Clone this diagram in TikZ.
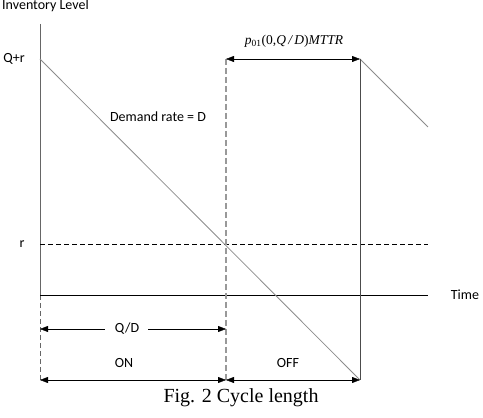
\documentclass[tikz,border=0pt]{standalone}
\usepackage{fontspec}
\setmainfont{Carlito}
\newfontfamily\timesfont{Liberation Serif}
\usetikzlibrary{arrows.meta}

\begin{document}
\begin{tikzpicture}[x=1pt, y=1pt, >={Triangle[length=8pt,width=6pt]},
    lbl/.style={font=\fontsize{14}{16}\selectfont, inner sep=1pt},
    demand/.style={black!45, line width=0.8pt},
    longdash/.style={dash pattern=on 5pt off 3pt}]
    \useasboundingbox (0,0) rectangle (483,418);
    % points of the plot
    \coordinate (O) at (40,123);
    \coordinate (ytop) at (40,394);
    \coordinate (xend) at (428,123);
    \coordinate (Obot) at (40,38);
    \coordinate (A) at (40,359);
    \coordinate (B) at (360,38);
    \coordinate (C) at (360,359);
    \coordinate (Cend) at (428,291);
    \coordinate (rl) at (40,174);
    \coordinate (rr) at (428,174);
    \coordinate (Rtop) at (226,359);
    \coordinate (Rbot) at (226,38);
    \coordinate (qdl) at (40,89);
    \coordinate (qdr) at (226,89);
    % axes
    \draw[black!60] (ytop) -- (O);
    \draw[black!60, longdash] (O) -- (Obot);
    \draw (O) -- (xend);
    \draw[longdash] (rl) -- (rr);
    \draw[demand] (A) -- (B);
    \draw[demand] (C) -- (Cend);
    \draw[black!40, dash pattern=on 6pt off 3pt, line width=1.2pt] (Rtop) -- (Rbot);
    \draw[black!70] (C) -- (B);
    \draw[<->] (Rtop) -- (C);
    \draw[<->] (Obot) -- (Rbot);
    \draw[<->] (Rbot) -- (B);
    % labels
    \node[lbl, anchor=base west] (inv) at (1,408) {Inventory Level};
    \node[lbl] (qr) at (14,359) {Q+r};
    \node[lbl] (r) at (22,174) {r};
    \node[lbl] (time) at (465,123) {Time};
    \node[lbl] (rate) at (158,301) {Demand rate = D};
    \node[lbl] (qd) at (127,89) {Q/D};
    \draw[->] ([xshift=-9pt]qd.west) -- (qdl);
    \draw[->] ([xshift=8pt]qd.east) -- (qdr);
    \node[lbl] (on) at (124,55) {ON};
    \node[lbl] (off) at (288,55) {OFF};
    \node[font=\timesfont\itshape\fontsize{13.5}{15}\selectfont] (mttr) at (294,377)
        {p\textsubscript{\upshape 01}{\upshape(0,}Q\,/\,D{\upshape)}MTTR};
    \node[font=\timesfont\fontsize{20}{24}\selectfont] (cap) at (241,20) {Fig. 2 Cycle length};
\end{tikzpicture}
\end{document}
